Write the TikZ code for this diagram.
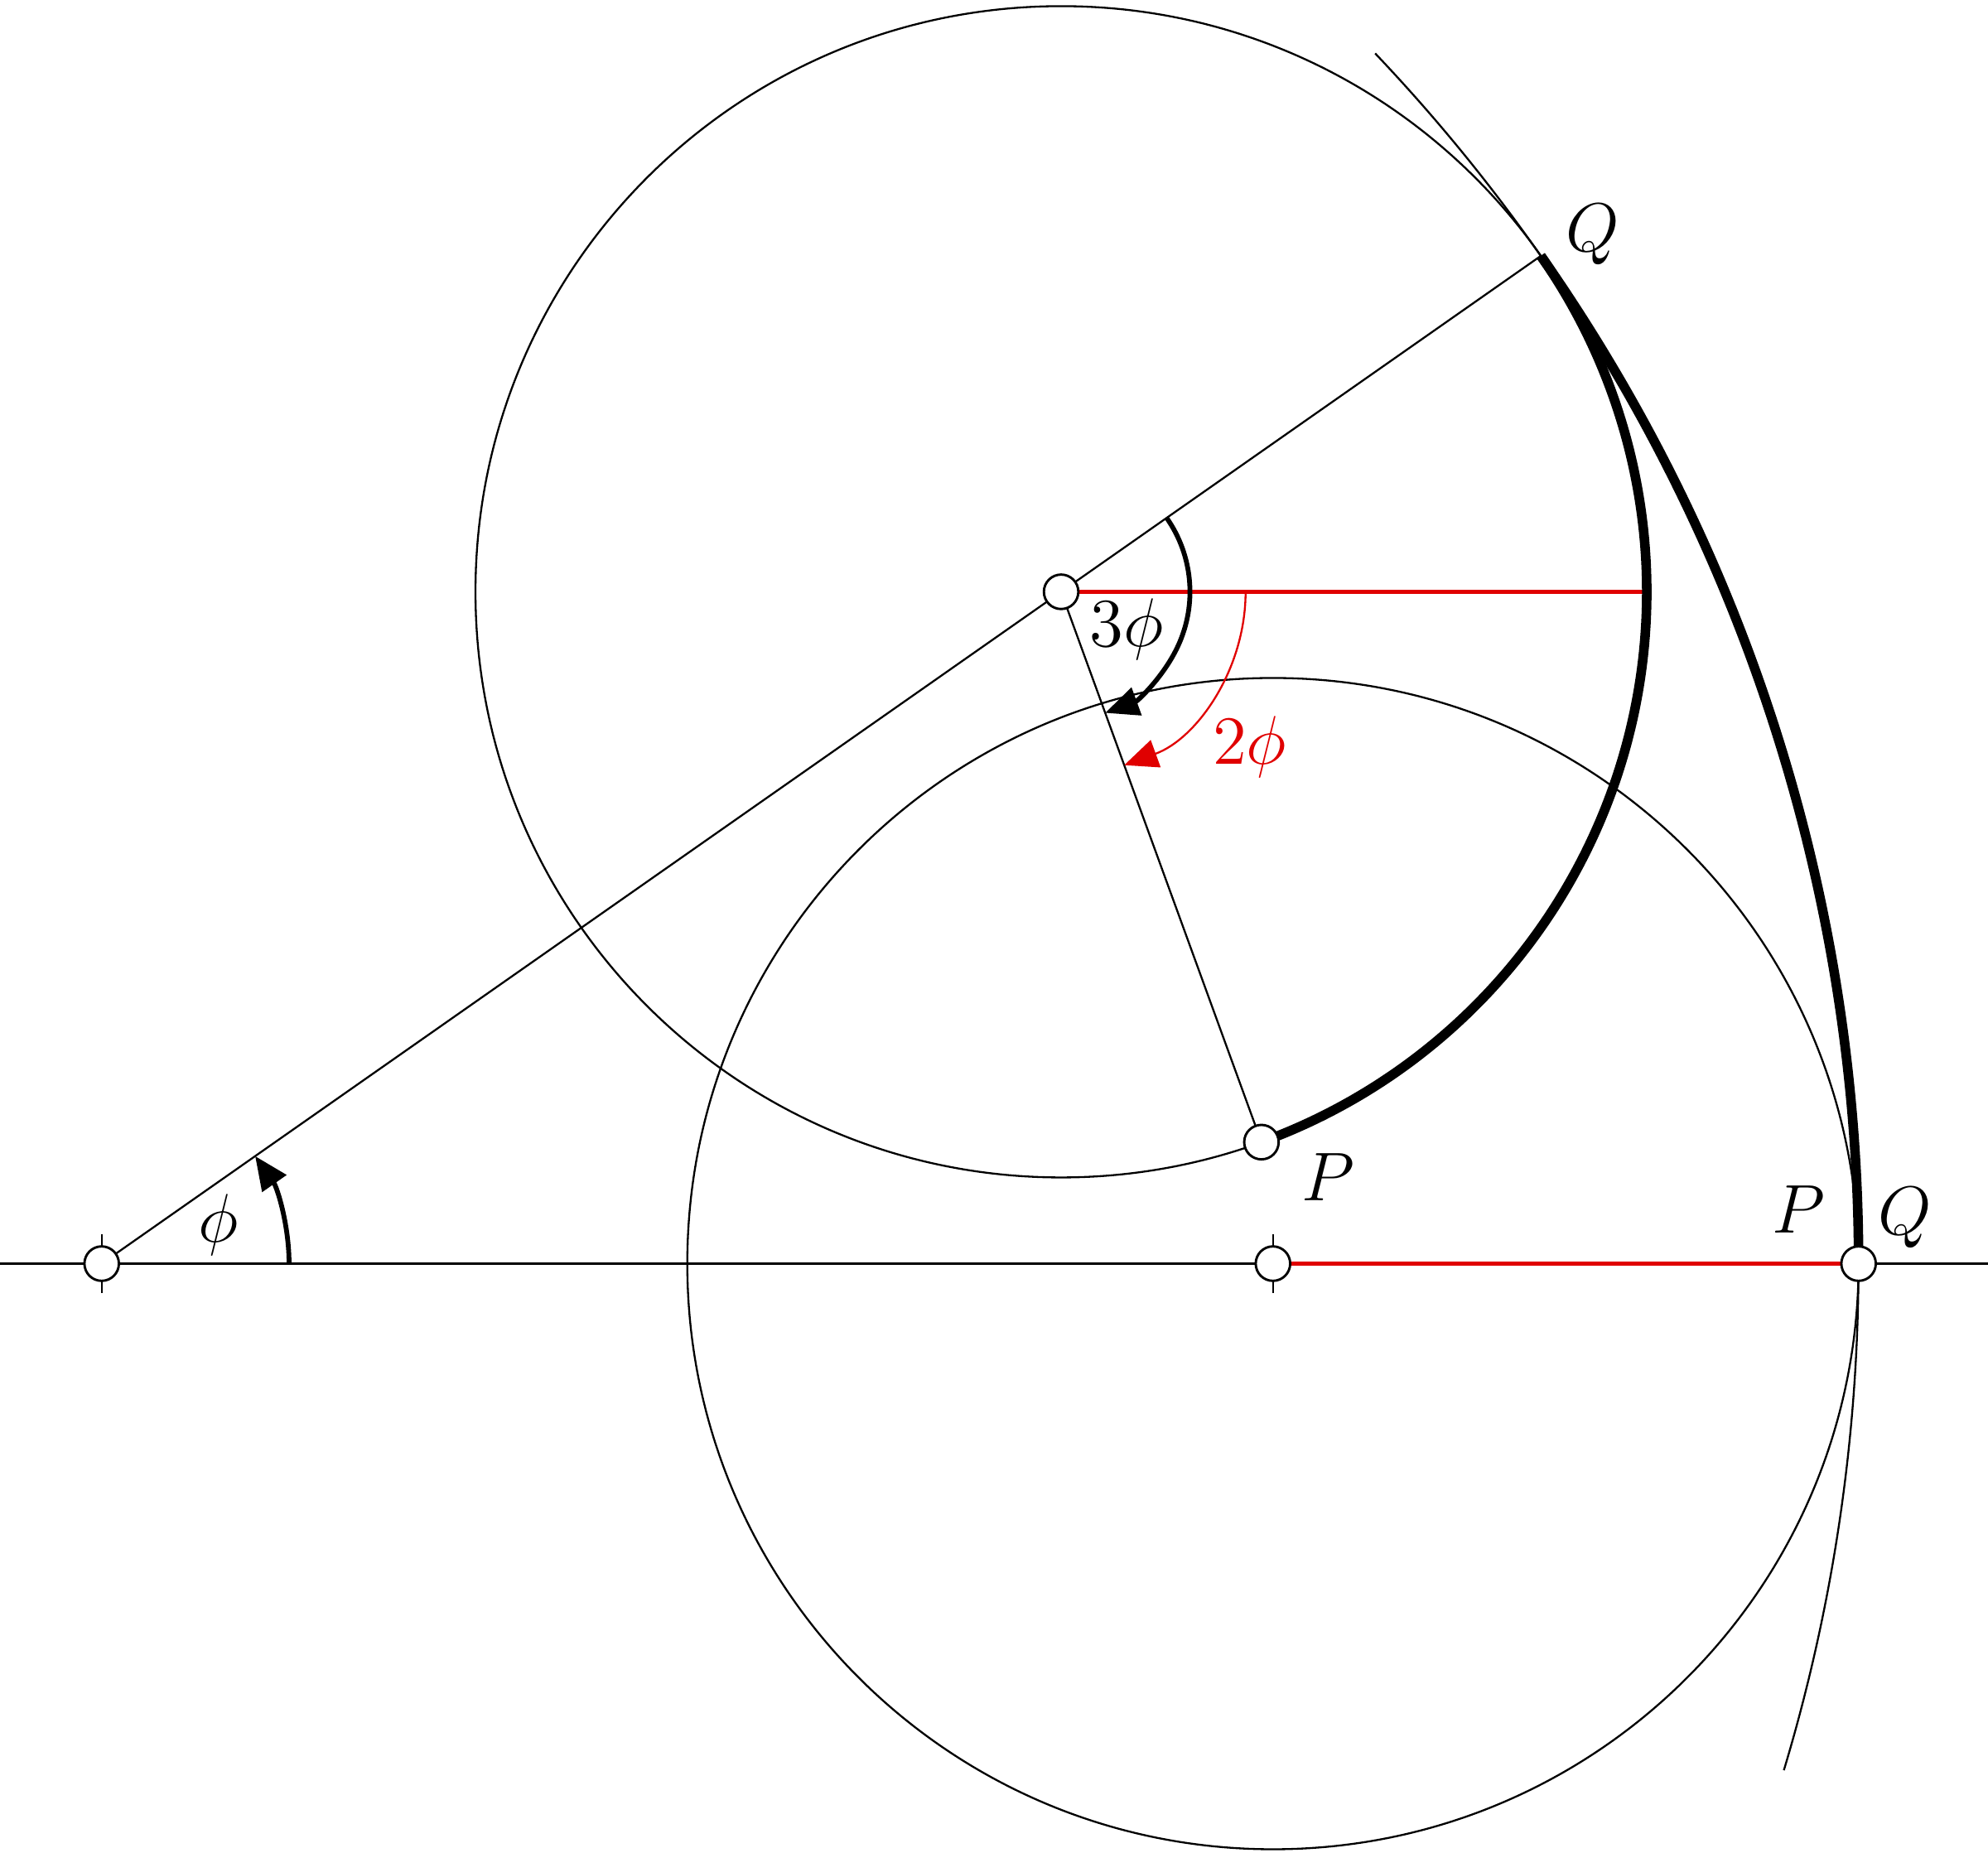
\documentclass[tikz,border=0pt]{standalone}
\usetikzlibrary{arrows.meta,calc}
\definecolor{myred}{RGB}{224,0,0}
\begin{document}
\begin{tikzpicture}[x=4.3cm,y=4.3cm,
  pt/.style={circle,draw,fill=white,line width=0.5pt,inner sep=0pt,minimum size=7.2pt},
  thinline/.style={line width=0.4pt},
  heavy/.style={line width=2pt},
  redline/.style={myred,line width=1pt},
  arrowline/.style={line width=1pt,-{Triangle[length=7pt,width=6pt]}},
  redarrow/.style={myred,line width=0.4pt,-{Triangle[length=7pt,width=6pt]}},
  lbl/.style={font=\Large}]
\useasboundingbox (-0.1736,-1.005) rectangle (3.221,2.1577);
\coordinate (O) at (0,0);
\coordinate (C2) at (2,0);
\coordinate (PQ) at (3,0);
\coordinate (C1) at (35:2);
\coordinate (Q) at (35:3);
\coordinate (P) at ($(C1)+(-70:1)$);
\coordinate (L) at (-0.1736,0);
\coordinate (R) at (3.221,0);
\coordinate (Rq) at ($(C1)+(1,0)$);
% construction lines
\draw[thinline] (L) -- (R);
\draw[thinline] (O) -- (Q);
\draw[thinline] (C1) -- (P);
\draw[thinline] (C1) circle[radius=1];
\draw[thinline] (C2) circle[radius=1];
\draw[thinline] (O) ++(-16.76:3) arc[start angle=-16.76,end angle=43.54,radius=3];
\draw[thinline] ($(O)+(0,-0.05)$) -- ($(O)+(0,0.05)$);
\draw[thinline] ($(C2)+(0,-0.05)$) -- ($(C2)+(0,0.05)$);
% red radii
\draw[redline] (C1) -- (Rq);
\draw[redline] (C2) -- (PQ);
% thick arcs
\draw[heavy] (P) arc[start angle=-70,end angle=35,radius=1];
\draw[heavy] (PQ) arc[start angle=0,end angle=35,radius=3];
% angle arrows
\draw[arrowline] (O) ++(0.32,0) arc[start angle=0,end angle=35,radius=0.32];
\draw[arrowline] (C1) ++(35:0.22) arc[start angle=35,end angle=-70,radius=0.22];
\draw[redarrow] (C1) ++(0.315,0) arc[start angle=0,end angle=-70,radius=0.315];
% points
\node[pt] (nO) at (O) {};
\node[pt] (nC1) at (C1) {};
\node[pt] (nC2) at (C2) {};
\node[pt] (nP) at (P) {};
\node[pt] (nPQ) at (PQ) {};
% labels
\node[lbl] (lphi) at ($(O)+(0.199,0.0668)$) {$\phi$};
\node[lbl] (l3phi) at ($(C1)+(0.112,-0.0646)$) {$3\phi$};
\node[lbl,text=myred] (l2phi) at ($(C1)+(0.322,-0.265)$) {$2\phi$};
\node[lbl] (lP1) at ($(P)+(0.1146,-0.0603)$) {$P$};
\node[lbl] (lP2) at ($(PQ)+(-0.1023,0.093)$) {$P$};
\node[lbl] (lQ2) at ($(PQ)+(0.079,0.078)$) {$Q$};
\node[lbl] (lQ1) at ($(Q)+(0.089,0.036)$) {$Q$};
\end{tikzpicture}
\end{document}
